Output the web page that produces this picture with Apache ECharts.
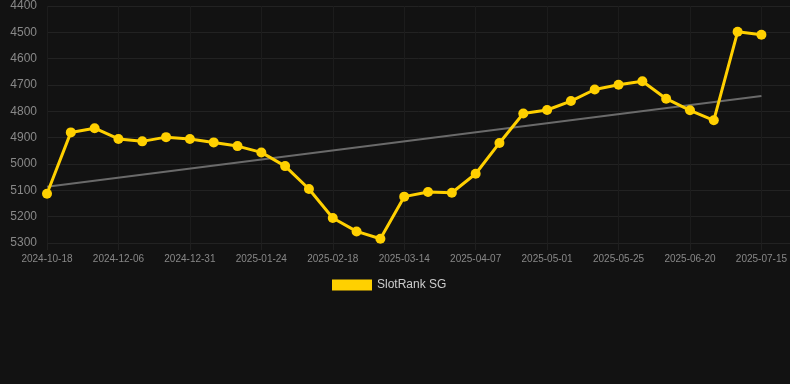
<!DOCTYPE html>
<html>
<head>
<meta charset="utf-8">
<script src="https://cdn.jsdelivr.net/npm/echarts@6/dist/echarts.min.js"></script>
<style>
  html, body { margin: 0; padding: 0; background: #121212; }
  #chart { width: 790px; height: 384px; }
</style>
</head>
<body>
<div id="chart"></div>
<script>
// dates (every 3rd one shows on the axis)
const dates = [
  '2024-10-18', '2024-11-22', '2024-11-29', '2024-12-06', '2024-12-14', '2024-12-22',
  '2024-12-31', '2025-01-08', '2025-01-16', '2025-01-24', '2025-02-01', '2025-02-09',
  '2025-02-18', '2025-02-26', '2025-03-06', '2025-03-14', '2025-03-22', '2025-03-30',
  '2025-04-07', '2025-04-15', '2025-04-23', '2025-05-01', '2025-05-09', '2025-05-17',
  '2025-05-25', '2025-06-02', '2025-06-11', '2025-06-20', '2025-06-28', '2025-07-06',
  '2025-07-15'
];
const rank = [
  5113, 4880, 4864, 4905, 4914, 4898, 4905, 4918, 4932, 4956,
  5008, 5095, 5205, 5256, 5284, 5124, 5106, 5109, 5037, 4920,
  4808, 4795, 4761, 4717, 4699, 4686, 4752, 4796, 4834, 4498,
  4509
];
// trend line end points
const trendStart = 5086;
const trendEnd = 4742;

const rankData = rank.map((v, i) => [i, v]);
const trendData = [[0, trendStart], [dates.length - 1, trendEnd]];

const chart = echarts.init(document.getElementById('chart'));
chart.setOption({
  backgroundColor: '#121212',
  animation: false,
  grid: { left: 47, right: 0, top: 6, bottom: 141 },
  legend: {
    data: ['SlotRank SG'],
    top: 274,
    left: 327,
    icon: 'rect',
    itemWidth: 40,
    itemHeight: 11,
    itemGap: 6,
    textStyle: { color: '#cccccc', fontSize: 12, fontFamily: 'Liberation Sans, Arial, sans-serif' }
  },
  xAxis: {
    type: 'value',
    min: 0,
    max: 31.2,
    interval: 3,
    axisLine: { show: false, onZero: false },
    axisTick: { show: true, length: 7, lineStyle: { color: '#1f1f1f' } },
    axisLabel: {
      color: '#888888', fontSize: 10, margin: 11, showMaxLabel: false,
      fontFamily: 'Liberation Sans, Arial, sans-serif',
      formatter: v => dates[v] || ''
    },
    splitLine: { show: true, lineStyle: { color: '#1c1c1c' } }
  },
  yAxis: {
    type: 'value',
    inverse: true,
    min: 4400,
    max: 5300,
    interval: 100,
    axisLine: { show: false },
    axisTick: { show: false },
    axisLabel: {
      color: '#888888', fontSize: 12, margin: 10,
      fontFamily: 'Liberation Sans, Arial, sans-serif',
      formatter: v => String(v)
    },
    splitLine: { lineStyle: { color: '#222222' } }
  },
  series: [
    {
      name: 'trend',
      type: 'line',
      data: trendData,
      symbol: 'none',
      lineStyle: { color: '#6a6a6a', width: 2 },
      z: 1
    },
    {
      name: 'SlotRank SG',
      type: 'line',
      data: rankData,
      symbol: 'circle',
      symbolSize: 10,
      itemStyle: { color: '#FFD000' },
      lineStyle: { color: '#FFD000', width: 3 },
      z: 2
    }
  ]
});
</script>
</body>
</html>
